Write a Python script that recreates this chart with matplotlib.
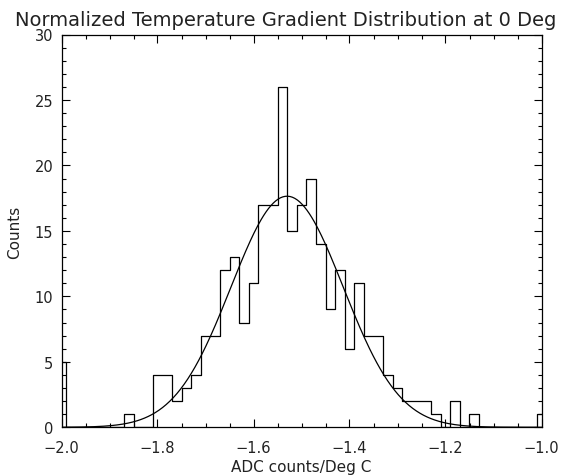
import numpy as np
import matplotlib
matplotlib.use("Agg")
import matplotlib.pyplot as plt
from matplotlib.ticker import MultipleLocator

# histogram values (IDL psym=10 style, one count per 0.02 bin centre)
bin_start = -2.0
bin_width = 0.02
counts = [5, 0, 0, 0, 0, 0, 0, 1, 0, 0,
          4, 4, 2, 3, 4, 7, 7, 12, 13, 8,
          11, 17, 17, 26, 15, 17, 19, 14, 9, 12,
          6, 11, 7, 7, 4, 3, 2, 2, 2, 1,
          0, 2, 0, 1, 0, 0, 0, 0, 0, 0,
          1]

# gaussian fit parameters
fit_amp = 17.65
fit_center = -1.530
fit_sigma = 0.117

title = "Normalized Temperature Gradient Distribution at 0 Deg"
xlabel = "ADC counts/Deg C"
ylabel = "Counts"

bins = bin_start + bin_width * np.arange(len(counts))
xfit = np.linspace(-2.0, -1.0, 400)
yfit = fit_amp * np.exp(-(xfit - fit_center)**2 / (2 * fit_sigma**2))

plt.rcParams['font.family'] = ['DejaVu Sans']
txt_color = "#222222"

fig = plt.figure(figsize=(5.66, 4.77), dpi=100)
ax = fig.add_axes([61.5/566, 1 - 428.3/477, 480/566, 392.8/477])

ax.step(bins, counts, where="mid", color="black", lw=0.9)
ax.plot(xfit, yfit, color="black", lw=0.9)

ax.set_xlim(-2.0, -1.0)
ax.set_ylim(0, 30)
ax.xaxis.set_major_locator(MultipleLocator(0.2))
ax.xaxis.set_minor_locator(MultipleLocator(0.05))
ax.yaxis.set_major_locator(MultipleLocator(5))
ax.yaxis.set_minor_locator(MultipleLocator(1))
ax.xaxis.set_major_formatter(plt.FuncFormatter(lambda v, p: f"{v:.1f}".replace("-", "\u2212")))

ax.tick_params(which="both", direction="in", top=True, right=True,
               width=0.8, color="black", labelsize=10.5, labelcolor=txt_color)
ax.tick_params(which="major", length=6)
ax.tick_params(which="minor", length=3)
ax.tick_params(axis="x", pad=9)
ax.tick_params(axis="y", pad=6)
for s in ax.spines.values():
    s.set_linewidth(0.9)

ax.set_xlabel(xlabel, fontsize=11, labelpad=3, color=txt_color)
ax.set_ylabel(ylabel, fontsize=11, labelpad=9, color=txt_color)
fig.text(286/566, 1 - 26.5/477, title, ha="center", va="baseline",
         fontsize=14, color=txt_color)

fig.savefig("out.png", dpi=100)
